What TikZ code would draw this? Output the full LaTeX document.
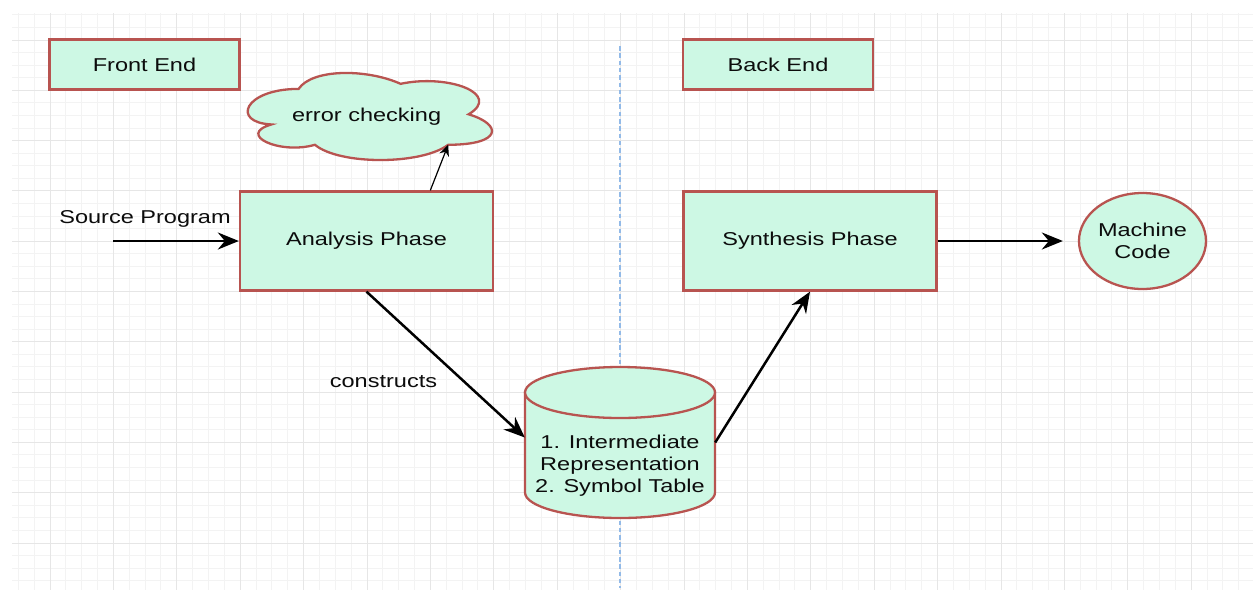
\documentclass[tikz,border=0pt]{standalone}
\usepackage{fontspec}
\setmainfont{Liberation Sans}[FakeStretch=1.265]
\usetikzlibrary{arrows.meta,calc,shapes.geometric}

\definecolor{boxfill}{RGB}{205,248,228}
\definecolor{boxline}{RGB}{184,84,80}
\definecolor{gridminor}{RGB}{243,243,243}
\definecolor{gridmajor}{RGB}{230,230,230}
\definecolor{divider}{RGB}{146,186,232}
\definecolor{ink}{RGB}{12,12,12}

\begin{document}
\begin{tikzpicture}[x=1pt,y=-1pt,
  every node/.style={font=\fontsize{18.6}{22}\selectfont, text=ink, inner sep=0pt},
  shapeline/.style={draw=boxline, fill=boxfill, line width=2.3pt},
  titlebox/.style={shapeline, minimum width=190pt, minimum height=50pt},
  phasebox/.style={shapeline, minimum width=253pt, minimum height=99pt},
  outbox/.style={shapeline, ellipse, minimum width=127pt, minimum height=96pt, align=center},
  flow/.style={draw=black, line width=2.5pt, -{Stealth[length=21pt,width=17pt,inset=7pt]}},
  thinflow/.style={draw=black, line width=1.2pt, -{Stealth[length=11pt,width=10pt,inset=3.5pt]}},
  minorline/.style={draw=gridminor, line width=1pt},
  majorline/.style={draw=gridmajor, line width=1pt}]

\useasboundingbox (0,0) rectangle (1253,590);
\fill[white] (0,0) rectangle (1253,590);

% background grid
\foreach \j in {-2,...,75}
  \draw[minorline] ({50+15.85*\j},13) -- ({50+15.85*\j},590);
\foreach \i in {-2,...,43}
  \draw[minorline] (12,{40+12.575*\i}) -- (1253,{40+12.575*\i});
\foreach \j in {0,...,18}
  \draw[majorline] ({50+63.4*\j},13) -- ({50+63.4*\j},590);
\foreach \i in {0,...,10}
  \draw[majorline] (12,{40+50.3*\i}) -- (1253,{40+50.3*\i});

% divider between front end and back end
\draw[divider, line width=2.2pt, dash pattern=on 4.5pt off 2.8pt] (620,46) -- (620,588);

% title boxes
\node[titlebox] (front) at (144.5,64.5) {Front End};
\node[titlebox] (back) at (778,64.5) {Back End};

% phases
\node[phasebox] (ana) at (366.5,241) {Analysis Phase};
\node[phasebox] (syn) at (810,241) {Synthesis Phase};

% output
\node[outbox] (mc) at (1142.5,241) {Machine\\Code};

% cloud
\begin{scope}[shift={(230.6,63.5)}, x=272pt, y=-101.6pt]
  \draw[shapeline] (0.25,0.25)
    .. controls (0.05,0.25) and (0,0.58) .. (0.15,0.6)
    .. controls (0.02,0.7) and (0.18,0.9) .. (0.31,0.8)
    .. controls (0.4,1) and (0.7,1) .. (0.8,0.8)
    .. controls (1,0.8) and (1,0.6) .. (0.875,0.5)
    .. controls (1,0.3) and (0.8,0.1) .. (0.625,0.2)
    .. controls (0.5,0.05) and (0.3,0.05) .. (0.25,0.25) -- cycle;
  \coordinate (errnotch) at (0.8,0.8);
\end{scope}
\node (err) at (366.6,116.5) {error checking};

% storage cylinder
\draw[shapeline] (525,392.5) -- (525,492.5)
  .. controls (525,506.6) and (567.5,518) .. (620,518)
  .. controls (672.5,518) and (715,506.6) .. (715,492.5)
  -- (715,392.5) -- cycle;
\draw[shapeline] (620,392.5) ellipse [x radius=95, y radius=25.5];
\node[minimum width=190pt, minimum height=151pt] (db) at (620,442.5) {};
\node[align=center] (dbtext) at (620,466) {1. Intermediate\\Representation\\2. Symbol Table};

% labels
\coordinate (srcstart) at (113,241);
\node[anchor=base] (srclabel) at (145,223) {Source Program};
\node[anchor=base] (constr) at (383.5,387) {constructs};

% connectors
\draw[flow] (srcstart) -- (ana.west);
\draw[thinflow] ($(ana.north west)!0.75!(ana.north east)$) -- (errnotch);
\draw[flow] (ana.south) -- ([yshift=5pt]db.west);
\draw[flow] (db.east) -- (syn.south);
\draw[flow, shorten >=15pt] (syn.east) -- (mc.west);

\end{tikzpicture}
\end{document}
